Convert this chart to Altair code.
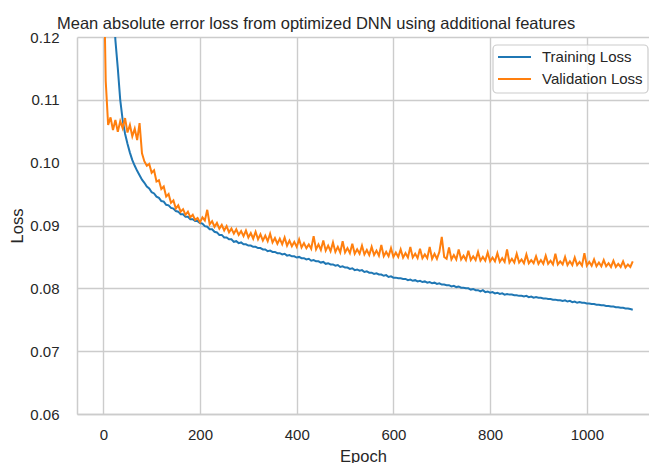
import altair as alt
import pandas as pd

# epochs sampled every 5
epochs = list(range(0, 1100, 5))

train_loss = [
    0.2500, 0.1850, 0.1550, 0.1380, 0.1270, 0.1195, 0.1150, 0.1100, 0.1068, 0.1046,
    0.1030, 0.1016, 0.1004, 0.0995, 0.0987, 0.0980, 0.0973, 0.0968, 0.0962, 0.0959,
    0.0953, 0.0951, 0.0946, 0.0944, 0.0939, 0.0938, 0.0933, 0.0932, 0.0928, 0.0927,
    0.0923, 0.0922, 0.0918, 0.0918, 0.0914, 0.0914, 0.0910, 0.0910, 0.0907, 0.0907,
    0.0904, 0.0903, 0.0899, 0.0898, 0.0894, 0.0894, 0.0890, 0.0889, 0.0885, 0.0885,
    0.0881, 0.0881, 0.0878, 0.0878, 0.0874, 0.0875, 0.0872, 0.0873, 0.0870, 0.0870,
    0.0868, 0.0868, 0.0866, 0.0866, 0.0864, 0.0864, 0.0862, 0.0862, 0.0859, 0.0860,
    0.0858, 0.0858, 0.0856, 0.0856, 0.0854, 0.0855, 0.0852, 0.0853, 0.0851, 0.0851,
    0.0849, 0.0850, 0.0848, 0.0848, 0.0846, 0.0847, 0.0844, 0.0845, 0.0843, 0.0843,
    0.0841, 0.0842, 0.0839, 0.0840, 0.0838, 0.0838, 0.0836, 0.0837, 0.0834, 0.0835,
    0.0833, 0.0833, 0.0831, 0.0832, 0.0829, 0.0830, 0.0828, 0.0829, 0.0826, 0.0827,
    0.0825, 0.0825, 0.0823, 0.0824, 0.0822, 0.0822, 0.0820, 0.0821, 0.0818, 0.0819,
    0.0817, 0.0817, 0.0816, 0.0816, 0.0815, 0.0815, 0.0813, 0.0814, 0.0812, 0.0813,
    0.0811, 0.0812, 0.0810, 0.0811, 0.0809, 0.0810, 0.0808, 0.0809, 0.0807, 0.0808,
    0.0806, 0.0806, 0.0805, 0.0805, 0.0803, 0.0804, 0.0802, 0.0803, 0.0801, 0.0801,
    0.0800, 0.0800, 0.0798, 0.0799, 0.0797, 0.0797, 0.0795, 0.0797, 0.0794, 0.0795,
    0.0793, 0.0794, 0.0792, 0.0793, 0.0791, 0.0792, 0.0790, 0.0791, 0.0790, 0.0790,
    0.0789, 0.0789, 0.0788, 0.0788, 0.0787, 0.0788, 0.0786, 0.0787, 0.0785, 0.0786,
    0.0785, 0.0785, 0.0784, 0.0784, 0.0783, 0.0783, 0.0782, 0.0782, 0.0781, 0.0781,
    0.0780, 0.0781, 0.0779, 0.0780, 0.0778, 0.0779, 0.0777, 0.0778, 0.0777, 0.0777,
    0.0776, 0.0776, 0.0775, 0.0775, 0.0774, 0.0774, 0.0773, 0.0773, 0.0772, 0.0772,
    0.0771, 0.0771, 0.0770, 0.0770, 0.0769, 0.0769, 0.0768, 0.0768, 0.0767, 0.0766,
]

val_loss = [
    0.1350, 0.1130, 0.1060, 0.1072, 0.1052, 0.1068, 0.1049, 0.1066, 0.1055, 0.1071,
    0.1048, 0.1060, 0.1042, 0.1054, 0.1036, 0.1063, 0.1015, 0.1002, 0.0995, 0.0998,
    0.0984, 0.0988, 0.0970, 0.0972, 0.0958, 0.0962, 0.0946, 0.0950, 0.0936, 0.0940,
    0.0927, 0.0932, 0.0922, 0.0926, 0.0917, 0.0922, 0.0913, 0.0917, 0.0909, 0.0912,
    0.0905, 0.0913, 0.0908, 0.0925, 0.0902, 0.0907, 0.0898, 0.0904, 0.0895, 0.0901,
    0.0892, 0.0899, 0.0889, 0.0895, 0.0887, 0.0894, 0.0885, 0.0891, 0.0883, 0.0892,
    0.0881, 0.0888, 0.0879, 0.0890, 0.0878, 0.0886, 0.0876, 0.0884, 0.0875, 0.0887,
    0.0873, 0.0880, 0.0871, 0.0879, 0.0870, 0.0881, 0.0868, 0.0876, 0.0867, 0.0874,
    0.0866, 0.0878, 0.0865, 0.0872, 0.0864, 0.0870, 0.0863, 0.0883, 0.0862, 0.0870,
    0.0861, 0.0876, 0.0860, 0.0868, 0.0859, 0.0873, 0.0858, 0.0866, 0.0857, 0.0875,
    0.0857, 0.0864, 0.0856, 0.0871, 0.0855, 0.0862, 0.0855, 0.0868, 0.0854, 0.0861,
    0.0853, 0.0866, 0.0853, 0.0860, 0.0852, 0.0869, 0.0851, 0.0858, 0.0851, 0.0864,
    0.0850, 0.0857, 0.0850, 0.0862, 0.0849, 0.0856, 0.0849, 0.0866, 0.0849, 0.0855,
    0.0848, 0.0863, 0.0848, 0.0854, 0.0848, 0.0866, 0.0847, 0.0855, 0.0847, 0.0858,
    0.0882, 0.0850, 0.0847, 0.0865, 0.0846, 0.0853, 0.0846, 0.0862, 0.0846, 0.0852,
    0.0845, 0.0860, 0.0845, 0.0851, 0.0845, 0.0858, 0.0844, 0.0850, 0.0844, 0.0857,
    0.0843, 0.0849, 0.0843, 0.0856, 0.0842, 0.0848, 0.0842, 0.0862, 0.0841, 0.0847,
    0.0841, 0.0855, 0.0841, 0.0846, 0.0840, 0.0854, 0.0840, 0.0845, 0.0840, 0.0851,
    0.0839, 0.0845, 0.0839, 0.0852, 0.0839, 0.0844, 0.0838, 0.0855, 0.0838, 0.0843,
    0.0838, 0.0850, 0.0837, 0.0843, 0.0837, 0.0849, 0.0837, 0.0842, 0.0836, 0.0856,
    0.0836, 0.0842, 0.0836, 0.0846, 0.0835, 0.0841, 0.0835, 0.0845, 0.0835, 0.0840,
    0.0834, 0.0844, 0.0834, 0.0839, 0.0834, 0.0843, 0.0833, 0.0838, 0.0834, 0.0843,
]

series_names = ["Training Loss", "Validation Loss"]
series_colors = ["#1f77b4", "#ff7f0e"]
x_ticks = [0, 200, 400, 600, 800, 1000]
y_ticks = [0.06, 0.07, 0.08, 0.09, 0.10, 0.11, 0.12]

df = pd.concat([
    pd.DataFrame({"Epoch": epochs, "Loss": train_loss, "Series": series_names[0]}),
    pd.DataFrame({"Epoch": epochs, "Loss": val_loss, "Series": series_names[1]}),
])

FONT = "Liberation Sans, Arial, sans-serif"
TXT = "#262626"
GRID = "#cccccc"

lines = alt.Chart(df).mark_line(strokeWidth=2, clip=True).encode(
    x=alt.X("Epoch:Q",
            scale=alt.Scale(domain=[-54.4, 1128.6], nice=False, zero=False),
            axis=alt.Axis(values=x_ticks, title="Epoch", format="d")),
    y=alt.Y("Loss:Q",
            scale=alt.Scale(domain=[0.06, 0.12], nice=False, zero=False),
            axis=alt.Axis(values=y_ticks, title="Loss", format=".2f")),
    color=alt.Color("Series:N",
                    scale=alt.Scale(domain=series_names, range=series_colors),
                    legend=None),
    order=alt.Order("Epoch:Q"),
)

# legend drawn as a frame with one line sample and label per series
legend_box = alt.Chart(pd.DataFrame({"k": [0]})).mark_rect(
    fill="white", fillOpacity=0.8, stroke=GRID, strokeWidth=1.2, cornerRadius=4
).encode(x=alt.value(416), x2=alt.value(571), y=alt.value(8), y2=alt.value(56))

legend_layers = [legend_box]
for i, (name, col) in enumerate(zip(series_names, series_colors)):
    row_y = 20 + 22 * i
    legend_layers.append(
        alt.Chart(pd.DataFrame({"label": [name]})).mark_rule(color=col, strokeWidth=2).encode(
            x=alt.value(421), x2=alt.value(454), y=alt.value(row_y))
    )
    legend_layers.append(
        alt.Chart(pd.DataFrame({"label": [name]})).mark_text(
            align="left", baseline="middle", font=FONT, fontSize=15, color=TXT
        ).encode(text="label:N", x=alt.value(465), y=alt.value(row_y))
    )

chart = alt.layer(lines, *legend_layers).properties(
    width=572, height=377,
    title=alt.TitleParams(text="Mean absolute error loss from optimized DNN using additional features",
                          anchor="start", frame="group", dx=-20, fontSize=16.5, font=FONT,
                          fontWeight="normal", color=TXT, offset=-2),
    autosize=alt.AutoSizeParams(type="none"),
    padding={"left": 77, "top": 37, "right": 0, "bottom": 49},
).configure_view(
    stroke=None,
).configure_axis(
    grid=True, gridColor=GRID, gridWidth=1.4,
    domain=True, domainColor=GRID, domainWidth=1.5, ticks=False,
    labelFont=FONT, labelFontSize=15, labelColor=TXT,
    titleFont=FONT, titleFontSize=16.5, titleColor=TXT, titleFontWeight="normal",
).configure_axisX(
    labelPadding=13, titlePadding=6,
).configure_axisY(
    labelPadding=18, titlePadding=4,
)

chart.save("out.html", embed_options={"renderer": "svg", "actions": False})
